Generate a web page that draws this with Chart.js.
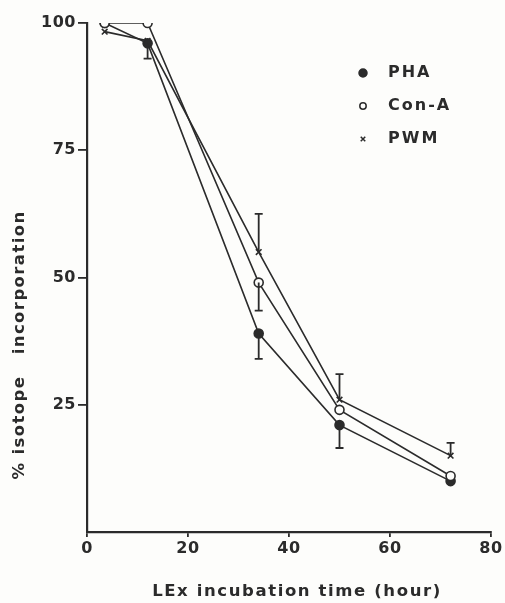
<!DOCTYPE html>
<html>
<head>
<meta charset="utf-8">
<script src="https://cdn.jsdelivr.net/npm/chart.js@4/dist/chart.umd.min.js"></script>
<style>
  html, body { margin: 0; padding: 0; background: #fdfdfb; }
  #wrap { width: 505px; height: 603px; }
</style>
</head>
<body>
<div id="wrap"><canvas id="chart" width="505" height="603"></canvas></div>
<script>
// incubation time (hour)
const hours = [3.5, 12, 34, 50, 72];
// % isotope incorporation
const pha  = [100, 96, 39, 21, 10];
const conA = [100, 100, 49, 24, 11];
const pwm  = [98.3, 96.5, 55, 26, 15];
// one-sided error bars (+ = drawn up, - = drawn down)
const errPha  = [null, -3, -5, -4.5, null];
const errConA = [null, null, -5.5, null, null];
const errPwm  = [null, null, 7.5, 5, 2.5];
const yTicks = [25, 50, 75, 100];
const xTicks = [0, 20, 40, 60, 80];
const xTitle = 'LEx incubation time (hour)';
const yTitle = '% isotope   incorporation';

const ink = '#2b2b2b';

function toPoints(ys) {
    return hours.map((h, i) => ({ x: h, y: ys[i] }));
}

// error bars drawn through the y scale
const errorBars = {
    id: 'errorBars',
    afterDatasetsDraw(chart) {
        const ctx = chart.ctx;
        const yScale = chart.scales.y;
        const sets = [errPha, errConA, errPwm];
        ctx.save();
        ctx.strokeStyle = ink;
        ctx.lineWidth = 1.8;
        chart.data.datasets.forEach((ds, i) => {
            const meta = chart.getDatasetMeta(i);
            sets[i].forEach((e, j) => {
                if (e === null) return;
                const pt = meta.data[j];
                const y2 = yScale.getPixelForValue(ds.data[j].y + e);
                ctx.beginPath();
                ctx.moveTo(pt.x, pt.y);
                ctx.lineTo(pt.x, y2);
                ctx.moveTo(pt.x - 4, y2);
                ctx.lineTo(pt.x + 4, y2);
                ctx.stroke();
            });
        });
        ctx.restore();
    }
};

// legend inside the plot (top right) and the two axis titles
const annotations = {
    id: 'annotations',
    afterDraw(chart) {
        const ctx = chart.ctx;
        const rows = [73, 106, 139];
        ctx.save();
        ctx.letterSpacing = '2px';
        ctx.font = 'bold 16px "DejaVu Sans"';
        ctx.textBaseline = 'middle';
        chart.data.datasets.forEach((ds, i) => {
            const y = rows[i];
            ctx.strokeStyle = ink;
            ctx.fillStyle = ds.pointBackgroundColor;
            ctx.lineWidth = 1.5;
            Chart.helpers.drawPoint(ctx, {
                pointStyle: ds.pointStyle,
                radius: i === 0 ? 4 : 3.2,
                borderWidth: 1.5,
                rotation: 0
            }, 363, y);
            ctx.fillStyle = ink;
            ctx.fillText(ds.label, 388, y);
        });

        ctx.fillStyle = ink;
        ctx.textAlign = 'center';
        ctx.letterSpacing = '1.6px';
        ctx.font = 'bold 16.5px "DejaVu Sans"';
        ctx.fillText(xTitle, 297, 592);

        ctx.letterSpacing = '1.4px';
        ctx.translate(20, 345);
        ctx.rotate(-Math.PI / 2);
        ctx.fillText(yTitle, 0, 0);
        ctx.restore();
    }
};

const spacing = {
    id: 'spacing',
    beforeDraw(chart) {
        chart.ctx.letterSpacing = '0.5px';
    }
};

const tickFont = { family: 'DejaVu Sans', size: 16, weight: 'bold' };

new Chart(document.getElementById('chart'), {
    type: 'line',
    data: {
        datasets: [
            {
                label: 'PHA', data: toPoints(pha), order: 1,
                pointStyle: 'circle', pointRadius: 4.5,
                pointBackgroundColor: ink, pointBorderColor: ink
            },
            {
                label: 'Con-A', data: toPoints(conA), order: 0,
                pointStyle: 'circle', pointRadius: 4.5,
                pointBackgroundColor: '#fdfdfb', pointBorderColor: ink
            },
            {
                label: 'PWM', data: toPoints(pwm), order: 2,
                pointStyle: 'crossRot', pointRadius: 4,
                pointBackgroundColor: ink, pointBorderColor: ink
            }
        ].map(d => Object.assign({
            borderColor: ink, borderWidth: 1.6, pointBorderWidth: 1.6,
            tension: 0, fill: false
        }, d))
    },
    options: {
        responsive: false,
        animation: false,
        layout: { padding: { top: 23, right: 14, left: 0, bottom: 0 } },
        plugins: {
            legend: { display: false },
            tooltip: { enabled: false }
        },
        scales: {
            x: {
                type: 'linear', min: 0, max: 80,
                afterBuildTicks: s => { s.ticks = xTicks.map(v => ({ value: v })); },
                afterFit: s => { s.height = 71; },
                grid: { drawOnChartArea: false, drawTicks: true, tickLength: 5, color: ink, lineWidth: 1.8 },
                border: { display: true, color: ink, width: 2.2 },
                ticks: { color: ink, padding: 2, font: tickFont }
            },
            y: {
                type: 'linear', min: 0, max: 100,
                afterBuildTicks: s => { s.ticks = yTicks.map(v => ({ value: v })); },
                afterFit: s => { s.width = 87; },
                grid: { drawOnChartArea: false, drawTicks: true, tickLength: 9, color: ink, lineWidth: 1.8 },
                border: { display: true, color: ink, width: 2.2 },
                ticks: { color: ink, padding: 2, font: tickFont }
            }
        }
    },
    plugins: [spacing, errorBars, annotations]
});
</script>
</body>
</html>
